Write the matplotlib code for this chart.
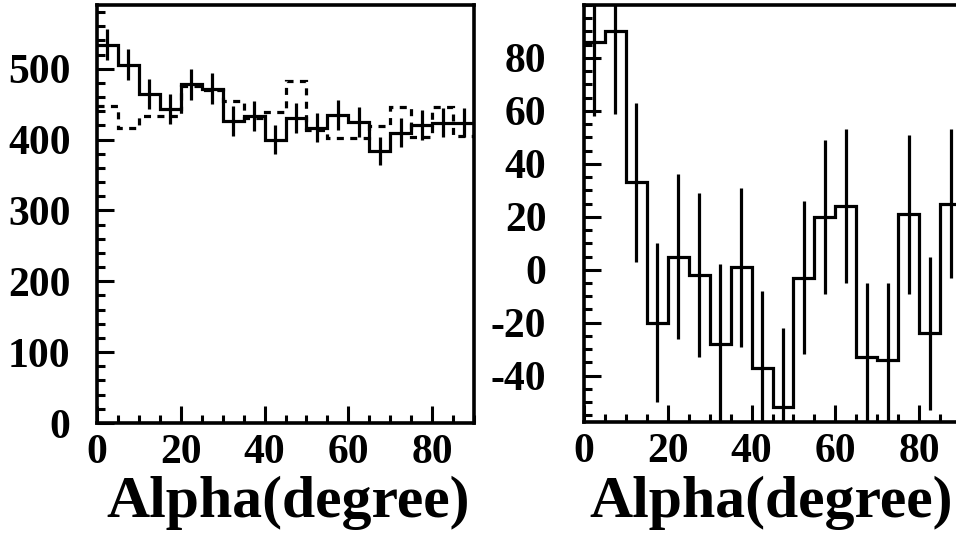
import numpy as np
import matplotlib
matplotlib.use("Agg")
import matplotlib.pyplot as plt
from matplotlib.ticker import MultipleLocator

plt.rcParams['font.family'] = ['Liberation Serif', 'DejaVu Serif']
plt.rcParams['font.weight'] = 'bold'
plt.rcParams['axes.unicode_minus'] = False

# ---- data ----
bin_edges = [0, 5, 10, 15, 20, 25, 30, 35, 40, 45, 50, 55, 60, 65, 70, 75, 80, 85, 90]

left_solid = [534, 506, 464, 443, 478, 472, 426, 433, 400, 431, 417, 435, 425, 384, 410, 421, 424, 424]
left_solid_err = [22, 22, 21, 21, 22, 22, 21, 21, 20, 21, 20, 21, 21, 20, 20, 21, 21, 21]
left_dashed = [448, 417, 433, 433, 476, 470, 455, 430, 439, 483, 414, 402, 402, 419, 446, 404, 446, 405]

right_values = [86, 90, 33, -20, 5, -2, -28, 1, -37, -52, -3, 20, 24, -33, -34, 21, -24, 25]
right_err = [28, 31, 30, 30, 31, 31, 30, 30, 29, 30, 29, 29, 29, 28, 29, 30, 29, 28]

x_ticks = [0, 20, 40, 60, 80]
left_y_ticks = [0, 100, 200, 300, 400, 500]
right_y_ticks = [-40, -20, 0, 20, 40, 60, 80]
x_label = "Alpha(degree)"

# ---- figure ----
W, H = 956, 533
fig = plt.figure(figsize=(W / 100, H / 100), dpi=100)

def px_axes(x0, y0, x1, y1):
    return fig.add_axes([x0 / W, 1 - y1 / H, (x1 - x0) / W, (y1 - y0) / H])

axL = px_axes(97, 5, 474, 423)
axR = px_axes(584, 5, 961, 422)

edges = np.array(bin_edges, dtype=float)
centers = 0.5 * (edges[:-1] + edges[1:])
lw = 2.3

# left panel
axL.stairs(left_dashed, edges, baseline=None, color='black', lw=lw,
           linestyle=(0, (2.2, 2.0)))
axL.stairs(left_solid, edges, baseline=None, color='black', lw=lw)
axL.errorbar(centers, left_solid, yerr=left_solid_err, fmt='none',
             ecolor='black', elinewidth=lw, capsize=0)
axL.set_xlim(0, 90)
axL.set_ylim(0, 590)
axL.set_yticks(left_y_ticks)
axL.yaxis.set_minor_locator(MultipleLocator(20))

# right panel
axR.stairs(right_values, edges, baseline=None, color='black', lw=lw)
axR.errorbar(centers, right_values, yerr=right_err, fmt='none',
             ecolor='black', elinewidth=lw, capsize=0)
axR.set_xlim(0, 90)
axR.set_ylim(-57.5, 100)
axR.set_yticks(right_y_ticks)
axR.yaxis.set_minor_locator(MultipleLocator(5))

label_centers = {id(axL): 288, id(axR): 771}
for ax, ypad in ((axL, 19), (axR, 27)):
    ax.set_xticks(x_ticks)
    ax.xaxis.set_minor_locator(MultipleLocator(5))
    ax.tick_params(which='both', direction='in', top=False, right=False,
                   width=2.2, labelsize=30)
    ax.tick_params(which='major', length=12)
    ax.tick_params(which='minor', length=6)
    ax.tick_params(axis='x', which='major', pad=8)
    ax.tick_params(axis='y', which='major', pad=ypad)
    for lab in ax.get_xticklabels() + ax.get_yticklabels():
        lab.set_fontweight('bold')
    for s in ax.spines.values():
        s.set_linewidth(2.6)
    fig.text(label_centers[id(ax)] / W, 1 - 517 / H, x_label, ha='center',
             va='baseline', fontsize=43, fontweight='bold')

fig.savefig("out.png", dpi=100)
